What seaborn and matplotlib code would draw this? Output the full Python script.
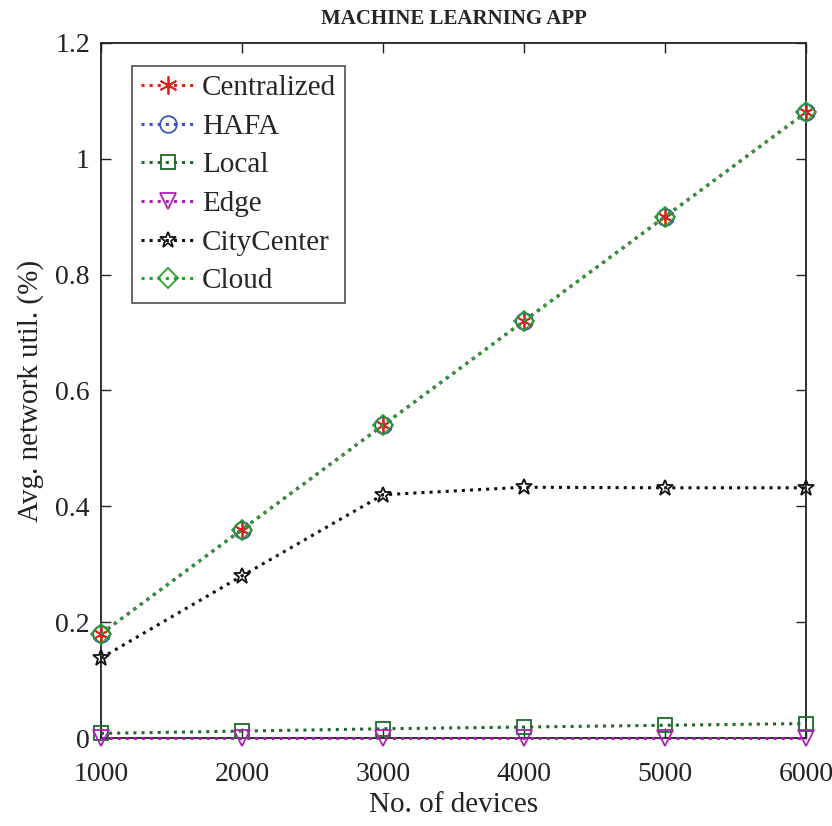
import matplotlib
matplotlib.use("Agg")
import matplotlib.pyplot as plt
import seaborn as sns
import pandas as pd

devices = [1000, 2000, 3000, 4000, 5000, 6000]
centralized = [0.18, 0.36, 0.54, 0.72, 0.90, 1.08]
hafa = [0.18, 0.36, 0.54, 0.72, 0.90, 1.08]
local = [0.008, 0.012, 0.016, 0.019, 0.022, 0.025]
edge = [0.0, 0.0, 0.0, 0.0, 0.0, 0.0]
city_center = [0.138, 0.28, 0.42, 0.433, 0.432, 0.432]
cloud = [0.18, 0.36, 0.54, 0.72, 0.90, 1.08]

sns.set_theme(style="white")
plt.rcParams["font.family"] = ["Liberation Serif", "DejaVu Serif"]

series = [
    ("Centralized", centralized, "#e0201b", (6, 2, 0), 13),
    ("HAFA", hafa, "#3a55b4", "o", 12),
    ("Local", local, "#1e6b2a", "s", 10),
    ("Edge", edge, "#b01fb5", "v", 12),
    ("CityCenter", city_center, "#111111", "*", 12),
    ("Cloud", cloud, "#2aa02a", "D", 10),
]

fig = plt.figure(figsize=(8.32, 8.26), dpi=100)
ax = fig.add_axes([0.1214, 0.1065, 0.8474, 0.8415])

for name, vals, color, marker, ms in series:
    df = pd.DataFrame({"devices": devices, "util": vals})
    sns.lineplot(
        data=df, x="devices", y="util", ax=ax, label=name,
        color=color, linestyle=":", linewidth=2.2,
        marker=marker, markersize=ms, markerfacecolor="none",
        markeredgecolor=color, markeredgewidth=1.3,
        clip_on=False, zorder=3,
    )

ax.set_xlim(1000, 6000)
ax.set_ylim(0, 1.2)
ax.set_xticks(devices)
ax.set_yticks([0, 0.2, 0.4, 0.6, 0.8, 1.0, 1.2])
ax.set_yticklabels(["0", "0.2", "0.4", "0.6", "0.8", "1", "1.2"])
ax.tick_params(axis="both", direction="in", length=7, width=1, labelsize=20,
               top=True, right=True, bottom=True, left=True, colors="#222222")
ax.tick_params(axis="x", pad=17)
ax.tick_params(axis="y", pad=8)
for s in ax.spines.values():
    s.set_color("#222222")
    s.set_linewidth(1.3)
    s.set_visible(True)

ax.set_xlabel("No. of devices", fontsize=21, color="#222222", labelpad=4)
ax.set_ylabel("Avg. network util. (%)", fontsize=21, color="#222222", labelpad=8)
ax.set_title("MACHINE LEARNING APP", fontsize=15, fontweight="bold", pad=14)

leg = ax.legend(loc="upper left", bbox_to_anchor=(0.044, 0.967), fontsize=21,
                frameon=True, fancybox=False, edgecolor="#222222",
                borderpad=0.3, labelspacing=0.42, handlelength=1.9,
                handletextpad=0.2, borderaxespad=0)
leg.get_frame().set_linewidth(1.2)

fig.savefig("out.png", dpi=100, facecolor="white")
